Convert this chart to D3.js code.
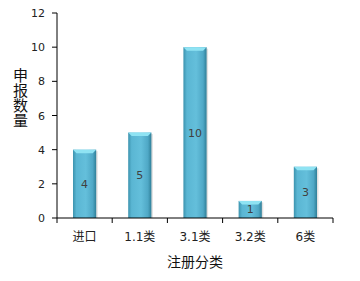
<!DOCTYPE html>
<html>
<head>
<meta charset="utf-8">
<style>
  body { margin: 0; background: #fff; }
  text { font-family: "DejaVu Sans", "Noto Sans CJK SC", sans-serif; }
</style>
</head>
<body>
<svg id="chart" width="360" height="281" viewBox="0 0 360 281" xmlns="http://www.w3.org/2000/svg"></svg>
<script src="https://d3js.org/d3.v7.min.js"></script>
<script>

const categories = ["进口", "1.1类", "3.1类", "3.2类", "6类"];
const counts = [4, 5, 10, 1, 3];
const yTicks = [0, 2, 4, 6, 8, 10, 12];

const plot = { left: 57, right: 333, top: 13, bottom: 218 };

const svg = d3.select("#chart");

const x = d3.scaleBand()
  .domain(categories)
  .range([plot.left, plot.right])
  .paddingInner(0.58)
  .paddingOuter(0.29);

const y = d3.scaleLinear()
  .domain([0, 12])
  .range([plot.bottom, plot.top]);

// bar body gradient, dark edges and lighter middle
const defs = svg.append("defs");
const grad = defs.append("linearGradient")
  .attr("id", "barGrad")
  .attr("x1", "0").attr("x2", "1").attr("y1", "0").attr("y2", "0");
grad.append("stop").attr("offset", "0").attr("stop-color", "#3c93ae");
grad.append("stop").attr("offset", "0.15").attr("stop-color", "#5ab6d3");
grad.append("stop").attr("offset", "0.55").attr("stop-color", "#64bfdb");
grad.append("stop").attr("offset", "0.85").attr("stop-color", "#4fa8c6");
grad.append("stop").attr("offset", "1").attr("stop-color", "#2f7f98");

const bw = x.bandwidth();

// soft shadow on the right
svg.selectAll(".shadow")
  .data(counts)
  .join("rect")
  .attr("x", (d, i) => x(categories[i]) + 1.5)
  .attr("y", d => y(d) + 1.5)
  .attr("width", bw)
  .attr("height", d => y(0) - y(d) - 1.5)
  .attr("fill", "#000")
  .attr("opacity", 0.12);

svg.selectAll(".bar")
  .data(counts)
  .join("rect")
  .attr("x", (d, i) => x(categories[i]))
  .attr("y", d => y(d))
  .attr("width", bw)
  .attr("height", d => y(0) - y(d))
  .attr("fill", "url(#barGrad)");

// bevel on top of each bar
svg.selectAll(".bevel")
  .data(counts)
  .join("path")
  .attr("d", (d, i) => {
    const x0 = x(categories[i]), y0 = y(d), b = 3.5;
    return `M${x0},${y0}H${x0 + bw}L${x0 + bw - b},${y0 + b}H${x0 + b}Z`;
  })
  .attr("fill", "#8fe3f3");

// value labels in the middle of the bars
svg.selectAll(".val")
  .data(counts)
  .join("text")
  .attr("x", (d, i) => x(categories[i]) + bw / 2)
  .attr("y", d => (y(d) + y(0)) / 2 + 4)
  .attr("text-anchor", "middle")
  .attr("font-size", "11px")
  .attr("fill", "#404040")
  .text(d => d);

// y axis
svg.append("line")
  .attr("x1", plot.left).attr("x2", plot.left)
  .attr("y1", plot.top).attr("y2", plot.bottom)
  .attr("stroke", "#000");

yTicks.forEach(t => {
  svg.append("line")
    .attr("x1", plot.left - 5).attr("x2", plot.left)
    .attr("y1", y(t)).attr("y2", y(t))
    .attr("stroke", "#000");
  svg.append("text")
    .attr("x", plot.left - 12)
    .attr("y", y(t) + 4)
    .attr("text-anchor", "end")
    .attr("font-size", "11px")
    .attr("fill", "#222")
    .text(t);
});

// x axis
svg.append("line")
  .attr("x1", plot.left).attr("x2", plot.right)
  .attr("y1", plot.bottom).attr("y2", plot.bottom)
  .attr("stroke", "#000");

const step = x.step();
d3.range(categories.length + 1).forEach(i => {
  const tx = plot.left + i * step;
  svg.append("line")
    .attr("x1", tx).attr("x2", tx)
    .attr("y1", plot.bottom).attr("y2", plot.bottom + 5)
    .attr("stroke", "#000");
});

categories.forEach(c => {
  svg.append("text")
    .attr("x", x(c) + bw / 2)
    .attr("y", 241)
    .attr("text-anchor", "middle")
    .attr("font-size", "12px")
    .attr("fill", "#222")
    .text(c);
});

// axis titles
svg.append("text")
  .attr("x", 195)
  .attr("y", 267)
  .attr("text-anchor", "middle")
  .attr("font-size", "14px")
  .attr("fill", "#111")
  .text("注册分类");

// vertical title, one character per row
svg.append("text")
  .attr("x", 19)
  .attr("y", 98)
  .attr("text-anchor", "middle")
  .attr("font-size", "15px")
  .attr("fill", "#111")
  .style("writing-mode", "vertical-rl")
  .style("text-orientation", "upright")
  .text("申报数量");
</script>
</body>
</html>
